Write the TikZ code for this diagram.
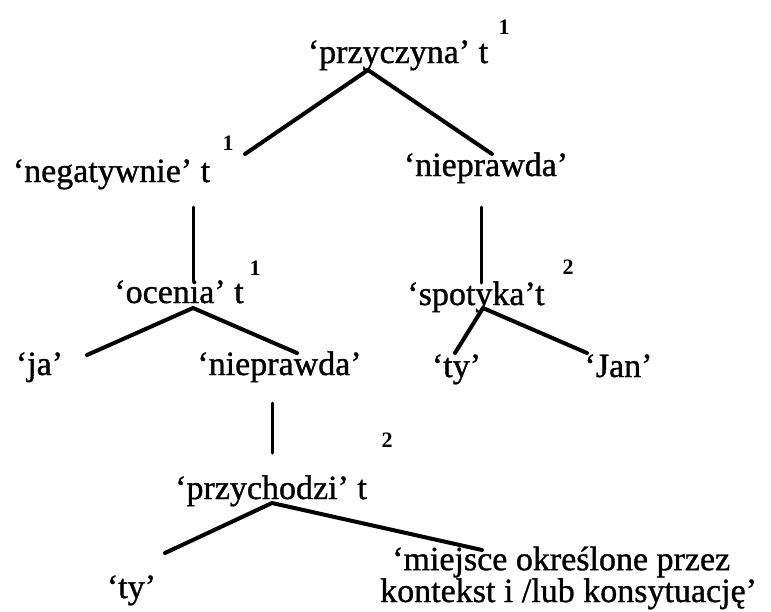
\documentclass[tikz,border=0pt]{standalone}
\usepackage{fontspec}
\setmainfont{Liberation Serif}
\newfontfamily\lblfont{Liberation Serif}[FakeBold=1]
\begin{document}
\begin{tikzpicture}[x=1pt,y=-1pt,
  lbl/.style={inner sep=0pt,anchor=base,font=\lblfont\fontsize{34}{30}\selectfont},
  idx/.style={inner sep=0pt,font=\fontsize{22}{24}\selectfont\bfseries},
  edge/.style={line width=4pt,line cap=round},
  vedge/.style={line width=3pt,line cap=round}]
\useasboundingbox (0,0) rectangle (771,611);
% labels
\node[lbl] (przyczyna) at (398,63) {‘przyczyna’ t};
\node[lbl] (negat) at (111.5,182) {‘negatywnie’ t};
\node[lbl] (niepR) at (486,176) {‘nieprawda’};
\node[lbl] (ocenia) at (179,303) {‘ocenia’ t};
\node[lbl] (spotyka) at (476,305) {‘spotyka’t};
\node[lbl] (ja) at (39.5,375) {‘ja’};
\node[lbl] (niepL) at (279.5,375) {‘nieprawda’};
\node[lbl] (tyR) at (456.5,377) {‘ty’};
\node[lbl] (jan) at (618.5,377) {‘Jan’};
\node[lbl] (przych) at (271,499) {‘przychodzi’ t};
\node[lbl] (tyB) at (131.5,598) {‘ty’};
\node[lbl,anchor=base west,align=left] (miejsce) at (380,602)
  {\hspace*{12pt}‘miejsce określone przez\\kontekst i /lub konsytuację’};
% indices
\node[idx] (i1) at (504,27) {1};
\node[idx] (i2) at (228,143) {1};
\node[idx] (i3) at (255,268) {1};
\node[idx] (i4) at (568,267) {2};
\node[idx] (i5) at (387,440) {2};
% connector points
\coordinate (a1) at (368,70);
\coordinate (a1l) at (245,154);
\coordinate (a1r) at (492,154);
\coordinate (v1t) at (193,207);
\coordinate (v1b) at (193,281);
\coordinate (v2t) at (481,207);
\coordinate (v2b) at (481,283);
\coordinate (a2) at (193,308);
\coordinate (a2l) at (87,355);
\coordinate (a2r) at (297,353);
\coordinate (a3) at (483,308);
\coordinate (a3l) at (455,353);
\coordinate (a3r) at (587,353);
\coordinate (v3t) at (272,403);
\coordinate (v3b) at (272,453);
\coordinate (a4) at (272,503);
\coordinate (a4l) at (165,553);
\coordinate (a4r) at (482,550);
% connectors
\draw[edge] (a1l) -- (a1) -- (a1r);
\draw[vedge] (v1t) -- (v1b);
\draw[vedge] (v2t) -- (v2b);
\draw[edge] (a2l) -- (a2) -- (a2r);
\draw[edge] (a3l) -- (a3) -- (a3r);
\draw[vedge] (v3t) -- (v3b);
\draw[edge] (a4l) -- (a4) -- (a4r);
\end{tikzpicture}
\end{document}
